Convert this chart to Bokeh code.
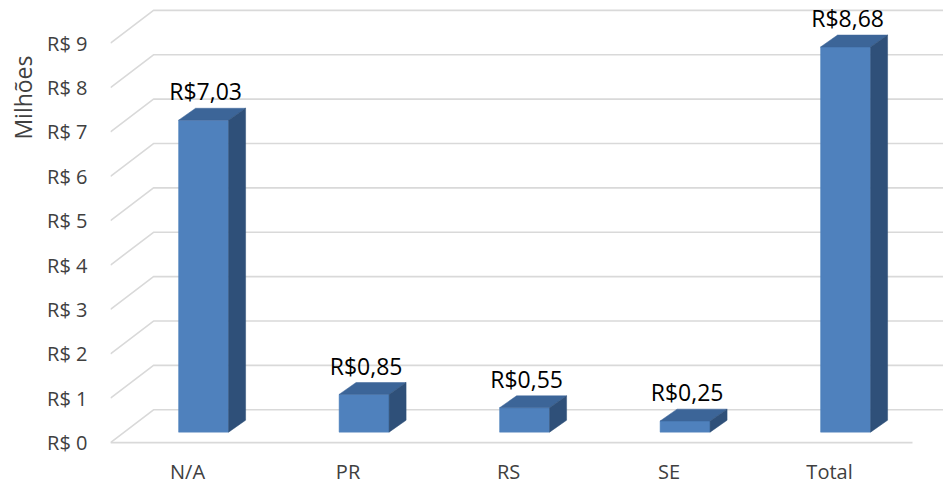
from bokeh.plotting import figure
from bokeh.models import FixedTicker, Range1d, Title, ColumnDataSource
from bokeh.core.properties import value
from bokeh.embed import file_html
from bokeh.resources import INLINE

# ---- data ----
categories = ["N/A", "PR", "RS", "SE", "Total"]
amounts = [7.03, 0.85, 0.55, 0.25, 8.68]          # R$ milhões
y_ticks = [0, 1, 2, 3, 4, 5, 6, 7, 8, 9]
y_tick_labels = ["R$ %d" % t for t in y_ticks]
axis_title = "Milhões"

# ---- geometry (pixels -> data units) ----
W, H = 943, 487
frame_left, frame_bottom = 110, 30
px_x = 160.5      # px per category
px_y = 44.67      # px per R$ 1 milhão
ux, uy = 1.0 / px_x, 1.0 / px_y
x0 = -0.48
x1 = x0 + (W - frame_left) * ux
floor_px = 445
y0 = -((H - frame_bottom) - floor_px) * uy
y1 = y0 + (H - frame_bottom) * uy

bar_shift = 0.10
bw = 50 * ux
ddx, ddy = 17 * ux, 12 * uy
base = 10.5 * uy
gdx, gdy = 43 * ux, 33 * uy

FONT = "Open Sans"
TXT = "#404040"

p = figure(width=W, height=H, output_backend="svg", toolbar_location=None,
           x_range=Range1d(x0, x1), y_range=Range1d(y0, y1),
           min_border_left=frame_left, min_border_bottom=frame_bottom,
           min_border_top=0, min_border_right=0,
           background_fill_color="white", border_fill_color="white")
p.outline_line_color = None
p.xgrid.visible = False
p.ygrid.visible = False

# gridlines: diagonal side wall + back wall + floor front edge
gx, gy = [], []
for t in y_ticks:
    gx.append([x0, x0 + gdx, x1])
    gy.append([t, t + gdy, t + gdy])
gx.append([x0, x0 + 802 * ux])
gy.append([0, 0])
p.multi_line(gx, gy, line_color="#d9d9d9", line_width=1.6)

# bars
centers = [i + bar_shift for i in range(len(categories))]
lefts = [c - bw / 2 for c in centers]
rights = [c + bw / 2 for c in centers]
tops = [base + a for a in amounts]
src = ColumnDataSource(dict(left=lefts, right=rights, top=tops, bottom=[base] * len(amounts)))
p.quad(left="left", right="right", top="top", bottom="bottom", source=src,
       fill_color="#4f81bd", line_color="#4f81bd", line_width=0.5)

top_xs, top_ys, side_xs, side_ys = [], [], [], []
for l, r, t in zip(lefts, rights, tops):
    top_xs.append([l, l + ddx, r + ddx, r])
    top_ys.append([t, t + ddy, t + ddy, t])
    side_xs.append([r, r + ddx, r + ddx, r])
    side_ys.append([base, base + ddy, t + ddy, t])
p.patches(top_xs, top_ys, fill_color="#3c6598", line_color="#3c6598", line_width=0.5)
p.patches(side_xs, side_ys, fill_color="#2f5079", line_color="#2f5079", line_width=0.5)

# data labels
lab_txt = [("R$%.2f" % a).replace(".", ",") for a in amounts]
p.text(x=[c + 2 * ux for c in centers], y=[t + ddy + 1 * uy for t in tops], text=lab_txt,
       text_font=value(FONT), text_font_size="23px", text_color="#000000",
       text_align="center", text_baseline="bottom")

# axes
p.yaxis.ticker = FixedTicker(ticks=y_ticks)
p.yaxis.major_label_overrides = {t: s for t, s in zip(y_ticks, y_tick_labels)}
p.xaxis.ticker = FixedTicker(ticks=list(range(len(categories))))
p.xaxis.major_label_overrides = {i: c for i, c in enumerate(categories)}
for ax in (p.xaxis, p.yaxis):
    ax.axis_line_color = None
    ax.major_tick_line_color = None
    ax.minor_tick_line_color = None
    ax.major_tick_out = 0
    ax.major_tick_in = 0
    ax.minor_tick_out = 0
    ax.major_label_text_font = FONT
    ax.major_label_text_font_size = "20px"
    ax.major_label_text_color = TXT
p.yaxis.major_label_standoff = 23
p.xaxis.major_label_standoff = 3

p.add_layout(Title(text=axis_title, align="right", vertical_align="middle", offset=55,
                   text_font=FONT, text_font_size="23px", text_font_style="normal",
                   text_color=TXT, standoff=9), "left")

open("out.html", "w").write(file_html(p, INLINE))
